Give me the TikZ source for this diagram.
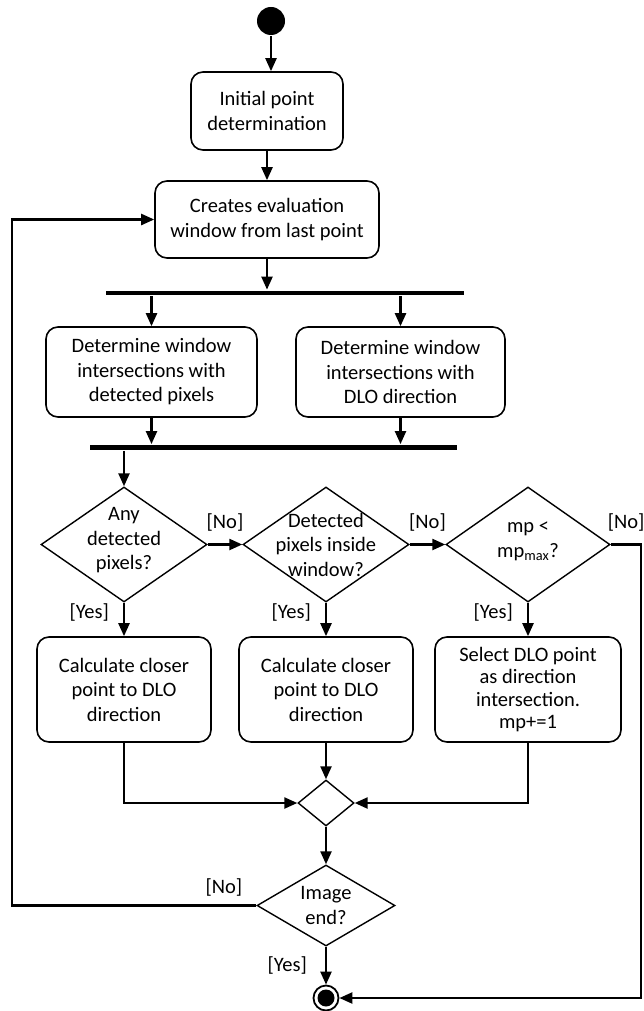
\documentclass[tikz,border=0pt]{standalone}
\usepackage{fontspec}
\setmainfont{Carlito}
\usetikzlibrary{arrows.meta,positioning,shapes.geometric}

\begin{document}
\begin{tikzpicture}[
  x=1pt,y=1pt,line width=2.3pt,
  every node/.style={font=\fontsize{20.5}{24.5}\selectfont,inner sep=0pt},
  act/.style={draw,rounded corners=12pt,line width=1.6pt,align=center},
  dec/.style={draw,diamond,line width=1.4pt},
  bar/.style={fill,minimum height=4.5pt},
  lbl/.style={inner sep=1pt},
  ->,>={Triangle[length=13pt,width=11pt]}]
  \useasboundingbox(0,0)rectangle(644,-1011);
  \node[circle,fill,minimum size=28pt](start) at(271,-21){};
  \node[act,minimum width=152pt,minimum height=78pt](init) at(267,-111){Initial point\\determination};
  \node[act,minimum width=224pt,minimum height=77pt](win) at(267,-219.5){Creates evaluation\\window from last point};
  \node[bar,minimum width=358pt](fork) at(285,-293){};
  \node[act,minimum width=211pt,minimum height=90pt](detL) at(151.5,-372){Determine window\\intersections with\\detected pixels};
  \node[act,minimum width=209pt,minimum height=90pt](detR) at(400.5,-372){Determine window\\intersections with\\DLO direction};
  \node[bar,minimum width=367pt](join) at(273.5,-447.5){};
  \node[dec,minimum width=166pt,minimum height=115pt](d1) at(124,-544.5){};
  \node[dec,minimum width=166pt,minimum height=115pt](d2) at(326,-544.5){};
  \node[dec,minimum width=164pt,minimum height=115pt](d3) at(528,-544.5){};
  \node[align=center](d1t) at([yshift=4pt]d1){Any\\detected\\pixels?};
  \node[align=center](d2t) at(d2){Detected\\pixels inside\\window?};
  \node[align=center](d3t) at([yshift=3pt]d3){mp <\\mp\textsubscript{max}?};
  \node[act,minimum width=174pt,minimum height=105pt](c1) at(124,-689.5){Calculate closer\\point to DLO\\direction};
  \node[act,minimum width=174pt,minimum height=105pt](c2) at(326,-689.5){Calculate closer\\point to DLO\\direction};
  \node[act,minimum width=186pt,minimum height=105pt](c3) at(528,-689.5){Select DLO point\\[-2pt]as direction\\[-2pt]intersection.\\[-2pt]mp+=1};
  \node[dec,minimum width=56pt,minimum height=46pt](m) at(326,-803){};
  \node[dec,minimum width=138pt,minimum height=81pt](e) at(326,-905.5){};
  \node[align=center](et) at(e){Image\\end?};
  \node[circle,draw,line width=1.8pt,minimum size=25pt](fin) at(326,-998){};
  \fill(fin.center)circle(8.5pt);
  \coordinate(lp) at(12,-905.5);
  \coordinate(rp) at(641,-544.5);
  \draw(start)--(start|-init.north);
  \draw(init.south)--(init.south|-win.north);
  \draw(win.south)--(win.south|-fork.north);
  \draw(detL.north|-fork.south)--(detL.north);
  \draw(detR.north|-fork.south)--(detR.north);
  \draw(detL.south)--(detL.south|-join.north);
  \draw(detR.south)--(detR.south|-join.north);
  \draw(d1.north|-join.south)--(d1.north);
  \draw(d1.east)--node[lbl,above=11pt](n1){[No]}(d2.west);
  \draw(d2.east)--node[lbl,above=11pt](n2){[No]}(d3.west);
  \draw(d3.east)node[lbl,above right=11pt and -5pt](n3){[No]}--(rp)|-(fin.east);
  \draw(d1.south)--node[lbl,pos=0.3,left=13pt](y1){[Yes]}(c1.north);
  \draw(d2.south)--node[lbl,pos=0.3,left=13pt](y2){[Yes]}(c2.north);
  \draw(d3.south)--node[lbl,pos=0.3,left=13pt](y3){[Yes]}(c3.north);
  \draw(c1.south)|-(m.west);
  \draw(c2.south)--(m.north);
  \draw(c3.south)|-(m.east);
  \draw(m.south)--(e.north);
  \draw(e.west)node[lbl,above left=7pt and 12pt](n4){[No]}--(lp)|-(win.west);
  \draw(e.south)--node[lbl,left=17pt](y4){[Yes]}(fin.north);
\end{tikzpicture}
\end{document}
